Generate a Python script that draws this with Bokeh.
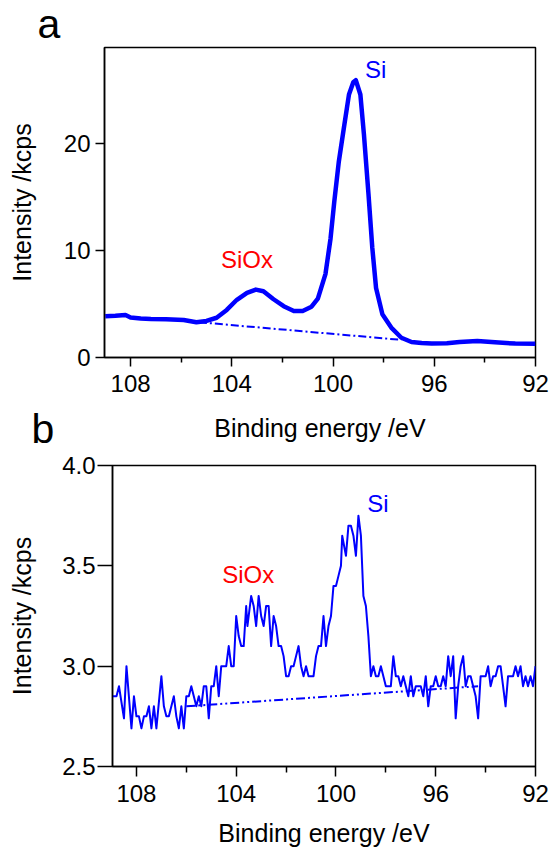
from bokeh.plotting import figure
from bokeh.layouts import column
from bokeh.models import Range1d, FixedTicker, PrintfTickFormatter, Label
from bokeh.embed import file_html
from bokeh.resources import INLINE

# ---------------- data ----------------
energy_a = [109.0, 108.6, 108.2, 108.0, 107.6, 107.2, 106.6, 105.9, 105.4, 105.0,
            104.6, 104.2, 103.8, 103.4, 103.05, 102.75, 102.35, 101.95, 101.55, 101.2,
            100.85, 100.6, 100.3, 100.1, 99.95, 99.77, 99.57, 99.37, 99.2, 99.1,
            98.92, 98.78, 98.6, 98.45, 98.3, 98.05, 97.7, 97.3, 96.9, 96.5,
            96.1, 95.5, 95.0, 94.3, 93.6, 92.8, 92.0]
intensity_a = [3.85, 3.9, 3.98, 3.75, 3.65, 3.6, 3.58, 3.5, 3.3, 3.42,
               3.72, 4.45, 5.4, 6.05, 6.35, 6.2, 5.45, 4.8, 4.35, 4.35,
               4.75, 5.5, 7.8, 11.1, 14.6, 18.35, 21.5, 24.6, 25.75, 25.95,
               24.6, 20.9, 15.3, 10.3, 6.5, 4.05, 2.8, 1.85, 1.45, 1.35,
               1.3, 1.33, 1.45, 1.55, 1.42, 1.3, 1.28]
baseline_a_x = [105.3, 97.3]
baseline_a_y = [3.3, 1.65]

energy_b = [109.0, 108.8, 108.7, 108.5, 108.4, 108.2, 108.1, 108.0, 107.9, 107.8,
            107.7, 107.6, 107.5, 107.4, 107.3, 107.2, 107.0, 106.9, 106.8, 106.7,
            106.5, 106.4, 106.3, 106.2, 106.1, 106.0, 105.9, 105.8, 105.7, 105.6,
            105.5, 105.4, 105.3, 105.2, 105.1, 105.0, 104.9, 104.8, 104.7, 104.6,
            104.5, 104.4, 104.3, 104.2, 104.1, 104.0, 103.9, 103.8, 103.7, 103.6,
            103.55, 103.4, 103.3, 103.2, 103.1, 103.0, 102.9, 102.8, 102.7, 102.6,
            102.5, 102.4, 102.3, 102.2, 102.1, 102.0, 101.9, 101.8, 101.7, 101.6,
            101.5, 101.4, 101.3, 101.2, 101.1, 101.0, 100.9, 100.8, 100.7, 100.6,
            100.5, 100.4, 100.3, 100.2, 100.1, 100.0, 99.9, 99.8, 99.75, 99.6,
            99.5, 99.4, 99.3, 99.2, 99.1, 99.0, 98.9, 98.8, 98.7, 98.6,
            98.5, 98.4, 98.3, 98.2, 98.1, 98.0, 97.9, 97.8, 97.7, 97.6,
            97.5, 97.4, 97.3, 97.2, 97.1, 97.0, 96.9, 96.8, 96.7, 96.6,
            96.5, 96.4, 96.3, 96.2, 96.1, 96.0, 95.9, 95.8, 95.7, 95.6,
            95.5, 95.4, 95.3, 95.2, 95.1, 95.0, 94.9, 94.8, 94.7, 94.6,
            94.5, 94.4, 94.3, 94.2, 94.1, 94.0, 93.9, 93.8, 93.7, 93.6,
            93.5, 93.4, 93.3, 93.2, 93.1, 93.0, 92.9, 92.8, 92.7, 92.6,
            92.5, 92.4, 92.3, 92.2, 92.1, 92.0]
intensity_b = [2.85, 2.85, 2.90, 2.74, 3.00, 2.69, 2.85, 2.75, 2.75, 2.69,
               2.75, 2.75, 2.80, 2.69, 2.80, 2.69, 2.95, 2.80, 2.75, 2.75,
               2.85, 2.75, 2.69, 2.80, 2.69, 2.85, 2.85, 2.90, 2.85, 2.80,
               2.85, 2.80, 2.90, 2.90, 2.74, 2.90, 2.90, 3.00, 2.85, 3.00,
               3.00, 3.00, 3.10, 3.00, 3.00, 3.25, 3.15, 3.10, 3.10, 3.30,
               3.20, 3.35, 3.30, 3.20, 3.35, 3.25, 3.20, 3.30, 3.30, 3.10,
               3.25, 3.20, 3.10, 3.10, 3.05, 2.95, 2.95, 3.00, 3.00, 3.05,
               3.10, 3.00, 2.95, 3.00, 2.95, 2.95, 2.95, 3.05, 3.10, 3.10,
               3.25, 3.10, 3.20, 3.25, 3.40, 3.40, 3.45, 3.50, 3.65, 3.55,
               3.70, 3.70, 3.65, 3.55, 3.75, 3.65, 3.35, 3.30, 3.15, 2.95,
               3.00, 2.95, 2.95, 3.00, 2.95, 2.90, 2.90, 2.90, 3.05, 2.95,
               2.95, 2.90, 2.95, 2.90, 2.85, 2.95, 2.85, 2.90, 2.90, 2.90,
               2.85, 2.95, 2.80, 2.90, 2.90, 2.95, 2.90, 2.90, 2.95, 2.90,
               3.05, 2.95, 3.05, 2.74, 2.90, 3.00, 3.05, 2.90, 2.95, 2.95,
               2.90, 2.85, 2.74, 2.95, 2.95, 2.95, 3.00, 2.90, 2.95, 2.95,
               3.00, 3.00, 2.90, 2.80, 2.95, 2.95, 2.95, 3.00, 2.95, 3.00,
               2.90, 2.95, 2.90, 2.95, 2.90, 3.00]
baseline_b_x = [106.0, 94.3]
baseline_b_y = [2.80, 2.90]

x_major_ticks = [108, 104, 100, 96, 92]
x_minor_ticks = [106, 102, 98, 94]
y_ticks_a = [0, 10, 20]
y_ticks_b = [2.5, 3.0, 3.5, 4.0]

x_title = "Binding energy /eV"
y_title = "Intensity /kcps"

BLUE = "#0000ff"
RED = "#ff0000"
FONT = "Liberation Sans"
W = 551


def style(p, y_tick_out, x_tick_out, x_minor_out, y_label_standoff):
    p.xgrid.visible = False
    p.ygrid.visible = False
    p.outline_line_color = "black"
    p.outline_line_width = 1.5
    p.background_fill_color = "white"
    p.border_fill_color = "white"
    for ax in (p.xaxis[0], p.yaxis[0]):
        ax.axis_line_width = 1.5
        ax.axis_line_color = "black"
        ax.major_tick_line_width = 1.5
        ax.minor_tick_line_width = 1.5
        ax.major_tick_in = 0
        ax.minor_tick_in = 0
        ax.major_label_text_font = FONT
        ax.major_label_text_font_size = "24px"
        ax.major_label_text_color = "black"
        ax.axis_label_text_font = FONT
        ax.axis_label_text_font_size = "25px"
        ax.axis_label_text_font_style = "normal"
        ax.axis_label_text_color = "black"
    p.xaxis[0].major_tick_out = x_tick_out
    p.xaxis[0].minor_tick_out = x_minor_out
    p.yaxis[0].major_tick_out = y_tick_out
    p.yaxis[0].minor_tick_out = 0
    p.xaxis[0].major_label_standoff = 8
    p.yaxis[0].axis_label_standoff = y_label_standoff
    p.xaxis[0].ticker = FixedTicker(ticks=x_major_ticks, minor_ticks=x_minor_ticks)
    p.yaxis[0].axis_label = y_title


def text_strip(height):
    s = figure(width=W, height=height, output_backend="svg", toolbar_location=None,
               x_range=Range1d(0, W), y_range=Range1d(0, height),
               x_axis_type=None, y_axis_type=None, min_border=0, frame_align=False)
    s.xgrid.visible = False
    s.ygrid.visible = False
    s.outline_line_color = None
    s.background_fill_color = "white"
    s.border_fill_color = "white"
    return s


def strip_label(s, x, y, text, size, align="left"):
    s.add_layout(Label(x=x, y=y, text=text, text_color="black", text_font=FONT,
                       text_font_size=size, text_align=align, text_baseline="middle"))


# ---------------- strip with panel letter "a" ----------------
top = text_strip(46)
strip_label(top, 37, 23, "a", "41px")

# ---------------- panel a ----------------
pa = figure(width=W, height=356, output_backend="svg", toolbar_location=None,
            x_range=Range1d(109.03, 92), y_range=Range1d(0, 29.0), frame_align=False,
            min_border_left=104, min_border_right=16, min_border_top=1, min_border_bottom=45)
style(pa, y_tick_out=9, x_tick_out=9, x_minor_out=5, y_label_standoff=25)
pa.yaxis[0].ticker = FixedTicker(ticks=y_ticks_a, minor_ticks=[])
pa.yaxis[0].major_label_standoff = 5

pa.line(baseline_a_x, baseline_a_y, line_color=BLUE, line_width=2, line_dash="8 3 2 3")
pa.line(energy_a, intensity_a, line_color=BLUE, line_width=4.5, line_join="round")
pa.add_layout(Label(x=98.32, y=26.9, text="Si", text_color=BLUE, text_font=FONT,
                    text_font_size="24px", text_align="center", text_baseline="middle"))
pa.add_layout(Label(x=103.4, y=9.2, text="SiOx", text_color=RED, text_font=FONT,
                    text_font_size="24px", text_align="center", text_baseline="middle"))

# ---------------- strip: x title of panel a and letter "b" ----------------
mid = text_strip(49)
strip_label(mid, 319.5, 23.7, x_title, "25px", align="center")
strip_label(mid, 31, 23, "b", "41px")

# ---------------- panel b ----------------
pb = figure(width=W, height=401, output_backend="svg", toolbar_location=None,
            x_range=Range1d(108.96, 92), y_range=Range1d(2.5, 4.0), frame_align=False,
            min_border_left=112, min_border_right=16, min_border_top=14, min_border_bottom=86)
style(pb, y_tick_out=15, x_tick_out=10, x_minor_out=6, y_label_standoff=23)
pb.xaxis[0].axis_label = x_title
pb.xaxis[0].axis_label_standoff = 14
pb.yaxis[0].ticker = FixedTicker(ticks=y_ticks_b, minor_ticks=[])
pb.yaxis[0].formatter = PrintfTickFormatter(format="%.1f")
pb.yaxis[0].major_label_standoff = 2

pb.line(baseline_b_x, baseline_b_y, line_color=BLUE, line_width=2, line_dash="9 3 2 3 2 3")
pb.line(energy_b, intensity_b, line_color=BLUE, line_width=2, line_join="round")
pb.add_layout(Label(x=98.32, y=3.81, text="Si", text_color=BLUE, text_font=FONT,
                    text_font_size="24px", text_align="center", text_baseline="middle"))
pb.add_layout(Label(x=103.52, y=3.458, text="SiOx", text_color=RED, text_font=FONT,
                    text_font_size="24px", text_align="center", text_baseline="middle"))

layout = column(top, pa, mid, pb)
open("out.html", "w").write(file_html(layout, INLINE))
